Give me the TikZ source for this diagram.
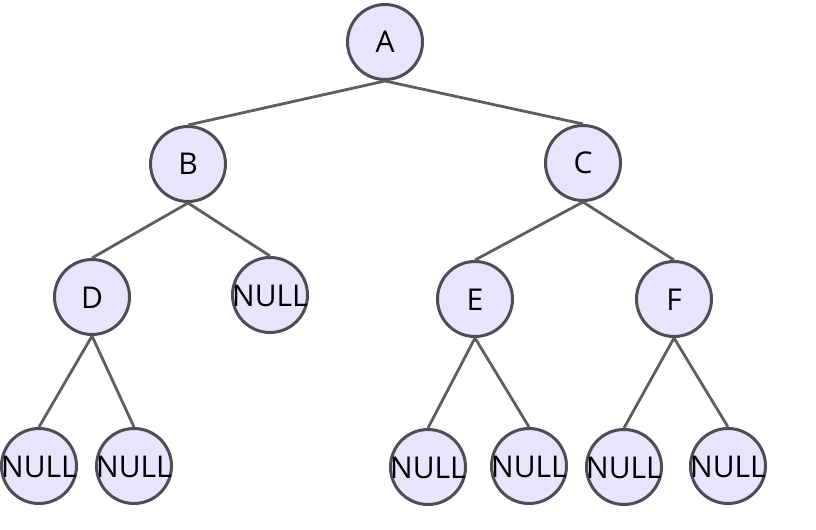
\documentclass[tikz,border=0pt]{standalone}
\usepackage{fontspec}
\setmainfont{Open Sans}
\definecolor{fillc}{HTML}{E8E4FC}
\definecolor{bordc}{HTML}{4E4C55}
\definecolor{edgec}{HTML}{5E5E5E}
\newcommand{\nulltext}{\makebox[0pt][c]{NULL}}
\begin{document}
\begin{tikzpicture}[x=1bp,y=-1bp,
  tn/.style={circle, draw=bordc, fill=fillc, line width=3bp, minimum size=75bp,
    inner sep=0pt, text height=22bp, text depth=0bp, font=\fontsize{30bp}{34bp}\selectfont},
  ed/.style={draw=edgec, line width=2.8bp}]
\useasboundingbox (0,0) rectangle (816,530);
\node[tn] (A) at (385,42) {A};
\node[tn] (B) at (188,164) {B};
\node[tn] (C) at (583,163) {C};
\node[tn] (D) at (92,297) {D};
\node[tn] (N1) at (270,295) {\nulltext};
\node[tn] (E) at (475,299) {E};
\node[tn] (F) at (674,299) {F};
\node[tn] (N2) at (39,466) {\nulltext};
\node[tn] (N3) at (134,466) {\nulltext};
\node[tn] (N4) at (428,467) {\nulltext};
\node[tn] (N5) at (529,466) {\nulltext};
\node[tn] (N6) at (624,467) {\nulltext};
\node[tn] (N7) at (728,466) {\nulltext};
\draw[ed] (A.south) -- (B.north);
\draw[ed] (A.south) -- (C.north);
\draw[ed] (B.south) -- (D.north);
\draw[ed] (B.south) -- (N1.north);
\draw[ed] (C.south) -- (E.north);
\draw[ed] (C.south) -- (F.north);
\draw[ed] (D.south) -- (N2.north);
\draw[ed] (D.south) -- (N3.north);
\draw[ed] (E.south) -- (N4.north);
\draw[ed] (E.south) -- (N5.north);
\draw[ed] (F.south) -- (N6.north);
\draw[ed] (F.south) -- (N7.north);
\end{tikzpicture}
\end{document}
